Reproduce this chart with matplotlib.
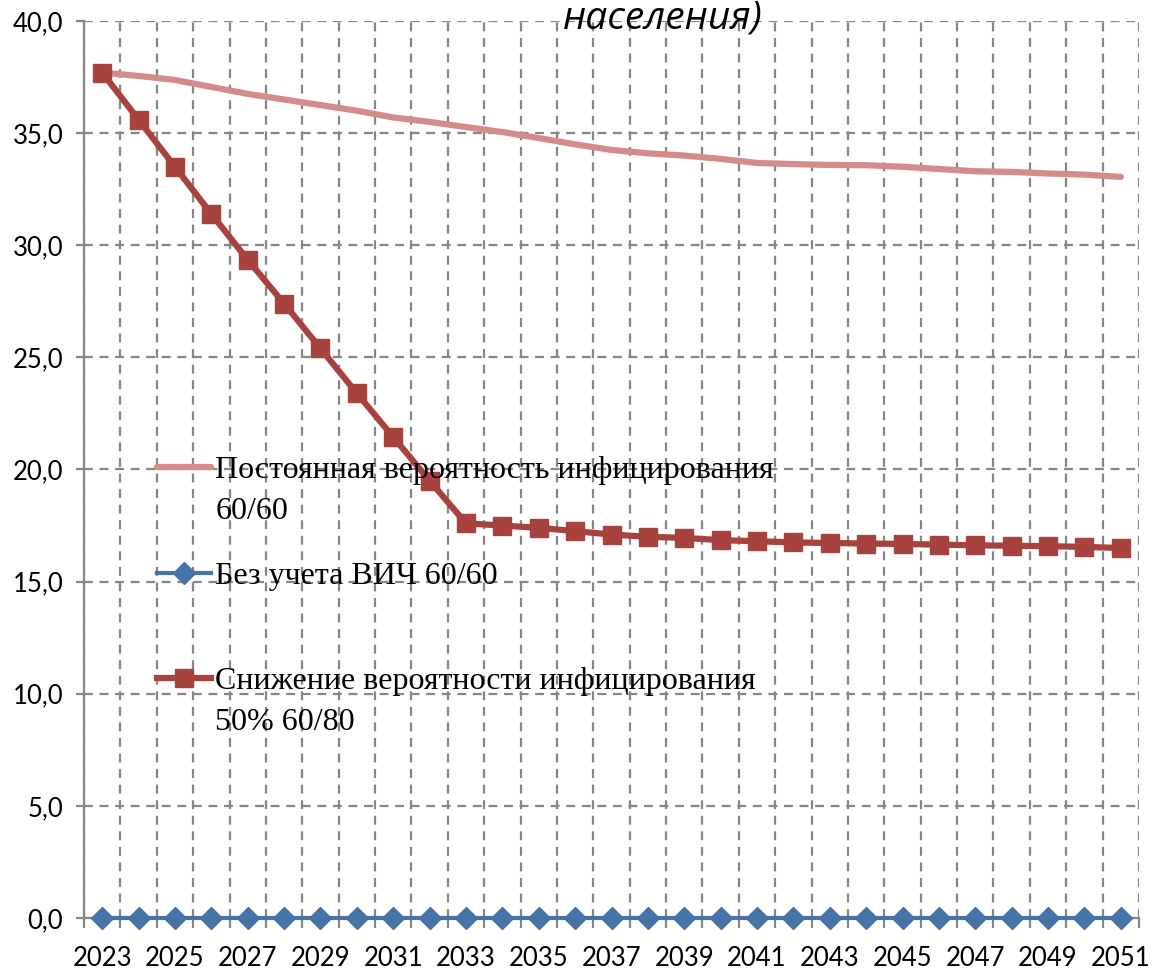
import numpy as np
import matplotlib
matplotlib.use("Agg")
import matplotlib.pyplot as plt
from matplotlib.ticker import FixedLocator

# years and scenario values
years = list(range(2023, 2052))
constant_prob = [37.7, 37.55, 37.37, 37.06, 36.75, 36.5, 36.25, 36.0, 35.7, 35.5,
                 35.27, 35.05, 34.78, 34.5, 34.25, 34.1, 34.0, 33.85, 33.67, 33.62,
                 33.58, 33.57, 33.5, 33.4, 33.3, 33.27, 33.2, 33.15, 33.05]
no_hiv = [0.0] * 29
reduced_prob = [37.7, 35.6, 33.5, 31.4, 29.35, 27.4, 25.4, 23.4, 21.45, 19.5,
                17.6, 17.5, 17.4, 17.25, 17.1, 17.0, 16.95, 16.85, 16.8, 16.75,
                16.72, 16.7, 16.68, 16.65, 16.62, 16.6, 16.58, 16.55, 16.5]

y_ticks = [0, 5, 10, 15, 20, 25, 30, 35, 40]
y_labels = [f"{v:.1f}".replace(".", ",") for v in y_ticks]
x_labels = [str(y) for y in years[::2]]

names = ["Постоянная вероятность инфицирования",
         "Без учета ВИЧ 60/60",
         "Снижение вероятности инфицирования"]
second_lines = ["60/60", "50% 60/80"]

grid_c = "#868686"
serif = ["Liberation Serif", "DejaVu Serif"]

fig = plt.figure(figsize=(11.55, 9.69), dpi=100)
ax = fig.add_axes([84 / 1155, 1 - 918 / 969, 1055 / 1155, 897 / 969])

x = np.arange(len(years))
l1, = ax.plot(x, constant_prob, color="#D48B8C", lw=4.5, solid_capstyle="round",
              clip_on=False, zorder=3)
l2, = ax.plot(x, no_hiv, color="#4572A7", lw=3, marker="D", ms=11.5,
              clip_on=False, zorder=4)
l3, = ax.plot(x, reduced_prob, color="#A8423F", lw=4.5, marker="s", ms=13.5,
              clip_on=False, zorder=5)

ax.set_xlim(-0.5, len(years) - 0.5)
ax.set_ylim(0, 40)

ax.set_xticks(x[::2])
ax.set_xticklabels(x_labels)
ax.xaxis.set_minor_locator(FixedLocator(np.arange(-0.5, len(years), 1.0)))
ax.set_yticks(y_ticks)
ax.set_yticklabels(y_labels)

ax.grid(which="minor", axis="x", color=grid_c, lw=1.6, ls=(0, (4, 3)))
ax.grid(which="major", axis="y", color=grid_c, lw=1.6, ls=(0, (4, 3)))
ax.set_axisbelow(True)

for s in ["top", "right"]:
    ax.spines[s].set_visible(False)
for s in ["left", "bottom"]:
    ax.spines[s].set_color(grid_c)
    ax.spines[s].set_linewidth(1.6)

ax.tick_params(axis="x", which="major", length=0, pad=20)
ax.tick_params(axis="x", which="minor", length=7, color=grid_c, width=1.6)
ax.tick_params(axis="y", which="major", length=6, color=grid_c, width=1.6, pad=9)
for lab in ax.get_xticklabels() + ax.get_yticklabels():
    lab.set_fontfamily(["Lato", "DejaVu Sans"])
    lab.set_fontsize(18.5)
    lab.set_color("black")

leg = ax.legend([l1, l2, l3], names, loc="upper left",
                bbox_to_anchor=(73 / 1055, (918 - 456) / 897),
                frameon=False, borderaxespad=0, borderpad=0,
                handlelength=1.7, handletextpad=0.12, labelspacing=2.38,
                prop=dict(family=serif, size=23))

# continuation lines of the two-line legend labels
for t, extra in zip([leg.get_texts()[0], leg.get_texts()[2]], second_lines):
    ax.annotate(extra, xy=(0, 0), xycoords=t, xytext=(0, -29.5),
                textcoords="offset points", ha="left", va="bottom",
                family=serif, size=23, zorder=6)

fig.text(663 / 1155, 1 - 28 / 969, "населения)", ha="center", va="baseline",
         style="italic", family=["Open Sans", "DejaVu Sans"], size=28)

fig.savefig("out.png", dpi=100)
